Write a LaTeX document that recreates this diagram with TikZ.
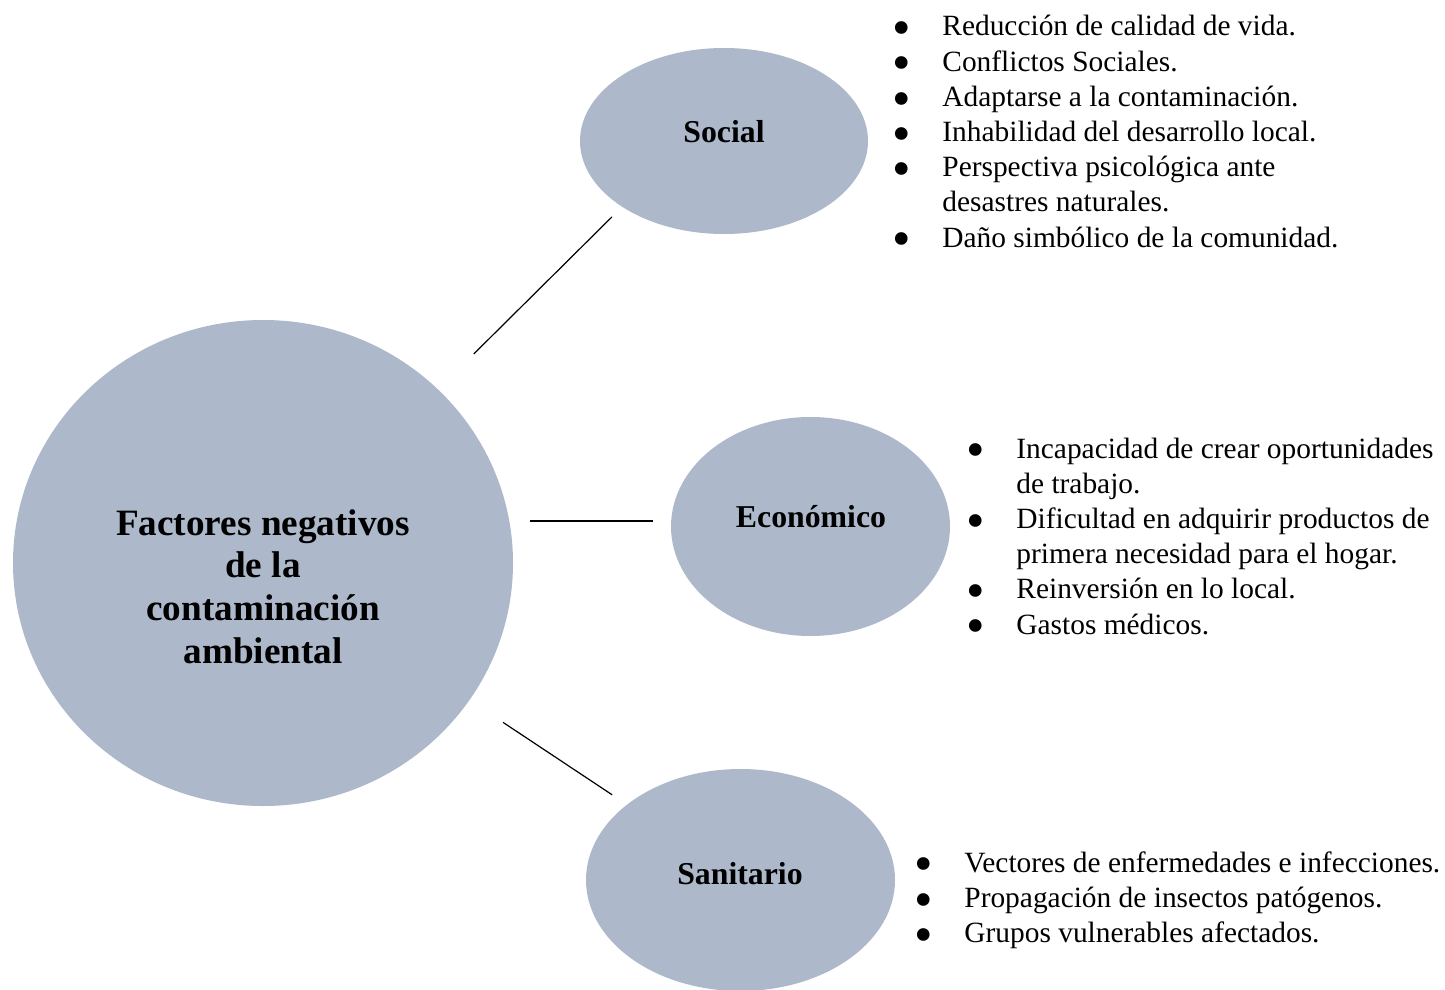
\documentclass[tikz,border=0pt]{standalone}
\usepackage{fontspec}
\setmainfont{Liberation Serif}
\usepackage{xcolor}
\usepackage{graphicx}
\usepackage{tikz}
\usetikzlibrary{shapes.geometric,positioning,calc}

\definecolor{grisazul}{HTML}{ADB9CA}
\newcommand{\vin}{\hspace*{-2pt}\raisebox{-4.9pt}{\scalebox{1.8}{\textbullet}}}

\begin{document}
\begin{tikzpicture}[
        x=0.5pt, y=-0.5pt,
        % estilos de las burbujas y textos
        burbuja/.style={ellipse, fill=grisazul, draw=none, inner sep=0pt},
        titulo/.style={anchor=base, inner sep=0pt, font=\bfseries\fontsize{15.9}{19}\selectfont},
        tituloppal/.style={anchor=base, inner sep=0pt, font=\bfseries\fontsize{18.6}{21.4}\selectfont},
        lista/.style={anchor=base west, inner sep=0pt, font=\fontsize{14.7}{17.6}\selectfont},
        % conectores
        enlace/.style={draw=black, line width=0.6pt}
    ]
    \useasboundingbox (0,0) rectangle (1445,990);

    % burbujas
    \node[burbuja, minimum width=250pt, minimum height=243pt] (main) at (263,563) {};
    \node[burbuja, minimum width=144pt, minimum height=93pt] (social) at (724,141) {};
    \node[burbuja, minimum width=139.5pt, minimum height=109.5pt] (eco) at (810.5,526.5) {};
    \node[burbuja, minimum width=154.5pt, minimum height=111pt] (san) at (740.5,880) {};

    % titulos
    \node[tituloppal] (tmain) at (263,535)
        {\begin{tabular}[t]{@{}c@{}}Factores negativos\\de la\\contaminación\\ambiental\end{tabular}};
    \node[titulo] (tsocial) at (724,142) {Social};
    \node[titulo] (teco) at (811,527) {Económico};
    \node[titulo] (tsan) at (740,884) {Sanitario};

    % conectores
    \draw[enlace, shorten <=25pt, shorten >=7pt] (main) -- (social.south west);
    \draw[enlace, shorten <=133.5pt, shorten >=9pt]
        ($(main.center |- eco.west)+(0,-5.5)$) -- ($(eco.west)+(0,-5.5)$);
    \draw[enlace, shorten <=20pt, shorten >=8.75pt] (main) -- (san);

    % listas
    \node[lista] (lsocial) at (896,36)
        {\begin{tabular}[t]{@{}p{23pt}@{}l@{}}
            \vin & Reducción de calidad de vida.\\
            \vin & Conflictos Sociales.\\
            \vin & Adaptarse a la contaminación.\\
            \vin & Inhabilidad del desarrollo local.\\
            \vin & Perspectiva psicológica ante\\
                 & desastres naturales.\\
            \vin & Daño simbólico de la comunidad.
        \end{tabular}};
    \node[lista] (leco) at (970,458)
        {\begin{tabular}[t]{@{}p{23pt}@{}l@{}}
            \vin & Incapacidad de crear oportunidades\\
                 & de trabajo.\\
            \vin & Dificultad en adquirir productos de\\
                 & primera necesidad para el hogar.\\
            \vin & Reinversión en lo local.\\
            \vin & Gastos médicos.
        \end{tabular}};
    \node[lista] (lsan) at (918,872)
        {\begin{tabular}[t]{@{}p{23pt}@{}l@{}}
            \vin & Vectores de enfermedades e infecciones.\\
            \vin & Propagación de insectos patógenos.\\
            \vin & Grupos vulnerables afectados.
        \end{tabular}};

\end{tikzpicture}
\end{document}
